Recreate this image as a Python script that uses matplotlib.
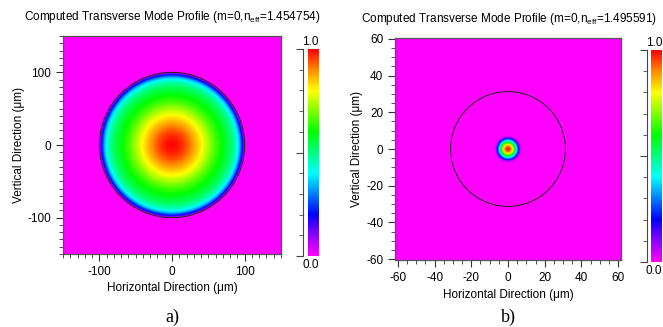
import numpy as np
import matplotlib
matplotlib.use("Agg")
import matplotlib.pyplot as plt
from matplotlib.colors import LinearSegmentedColormap
from matplotlib.ticker import MultipleLocator

plt.rcParams['font.family'] = ['Liberation Sans', 'DejaVu Sans']
plt.rcParams['mathtext.fontset'] = 'custom'
plt.rcParams['mathtext.rm'] = 'Liberation Sans'
plt.rcParams['mathtext.it'] = 'Liberation Sans'
plt.rcParams['axes.unicode_minus'] = False

# ---- data ----
titles = ["Computed Transverse Mode Profile (m=0,n$_{\\rm eff}$=1.454754)",
          "Computed Transverse Mode Profile (m=0,n$_{\\rm eff}$=1.495591)"]
panel_labels = ["a)", "b)"]
# radial intensity profile, panel a (radius in um, normalized intensity)
rad_a = [0, 10, 20, 30, 40, 50, 60, 70, 80, 88, 93, 97, 99, 100, 200]
int_a = [1.0, 0.98, 0.94, 0.88, 0.81, 0.73, 0.65, 0.59, 0.53, 0.45, 0.35, 0.2, 0.1, 0.0, 0.0]
core_a = 100.0
# radial intensity profile, panel b
rad_b = [0, 1.5, 2.5, 3.6, 4.7, 5.8, 6.7, 7.5, 100]
int_b = [1.0, 0.92, 0.8, 0.6, 0.4, 0.2, 0.05, 0.0, 0.0]
core_b = 31.3
xticks_a = [-100, 0, 100]
yticks_a = [-100, 0, 100]
xticks_b = [-60, -40, -20, 0, 20, 40, 60]
yticks_b = [-60, -40, -20, 0, 20, 40, 60]

cmap = LinearSegmentedColormap.from_list("mode", [
    (0.0, (1.0, 0.0, 1.0)), (0.1, (0.55, 0.0, 1.0)), (0.2, (0.0, 0.0, 1.0)),
    (0.4, (0.0, 1.0, 1.0)), (0.6, (0.0, 1.0, 0.0)), (0.8, (1.0, 1.0, 0.0)),
    (0.9, (1.0, 0.55, 0.0)), (1.0, (1.0, 0.0, 0.0))])

W, H = 663, 327
fig = plt.figure(figsize=(W / 100, H / 100), dpi=100)

def px(x0, y0, x1, y1):
    return [x0 / W, 1 - y1 / H, (x1 - x0) / W, (y1 - y0) / H]

FS = 8.5

def panel(box, lim_x, lim_y, rad, inten, core, xt, yt, minor, title, tpos, lab, lpos,
          cbox, cline, xlab_pad):
    ax = fig.add_axes(px(*box))
    n = 700
    xs = np.linspace(-lim_x, lim_x, n)
    ys = np.linspace(-lim_y, lim_y, n)
    X, Y = np.meshgrid(xs, ys)
    R = np.hypot(X, Y)
    Z = np.interp(R, rad, inten)
    ax.imshow(Z, extent=(-lim_x, lim_x, -lim_y, lim_y), origin='lower', cmap=cmap,
              vmin=0, vmax=1, aspect='auto', interpolation='bilinear')
    t = np.linspace(0, 2 * np.pi, 400)
    ax.plot(core * np.cos(t), core * np.sin(t), color='#202020', lw=0.7)
    ax.set_xlim(-lim_x, lim_x)
    ax.set_ylim(-lim_y, lim_y)
    ax.set_xticks(xt)
    ax.set_yticks(yt)
    ax.xaxis.set_minor_locator(MultipleLocator(minor))
    ax.yaxis.set_minor_locator(MultipleLocator(minor))
    ax.tick_params(which='major', length=5, width=0.8, labelsize=FS, color='#333333')
    ax.tick_params(which='minor', length=3, width=0.6, color='#333333')
    for s in ax.spines.values():
        s.set_color('#555555')
        s.set_linewidth(0.9)
    ax.set_xlabel("Horizontal Direction (μm)", fontsize=FS, labelpad=xlab_pad)
    ax.set_ylabel("Vertical Direction (μm)", fontsize=FS, labelpad=2)
    fig.text(tpos[0] / W, 1 - tpos[1] / H, title, fontsize=FS, ha='center', va='center')
    fig.text(lpos[0] / W, 1 - lpos[1] / H, lab, fontsize=13, ha='center', va='center',
             family='Liberation Serif')
    # colorbar
    cax = fig.add_axes(px(*cbox))
    grad = np.linspace(0, 1, 256).reshape(-1, 1)
    cax.imshow(grad, origin='lower', cmap=cmap, aspect='auto', extent=(0, 1, 0, 1))
    cax.set_axis_off()
    tax = fig.add_axes(px(cline, cbox[1], cline + 1, cbox[3]))
    tax.set_ylim(0, 1)
    for k in ['top', 'bottom', 'left']:
        tax.spines[k].set_visible(False)
    tax.spines['right'].set_color('#444444')
    tax.spines['right'].set_linewidth(0.8)
    tax.patch.set_visible(False)
    tax.set_xticks([])
    tax.yaxis.tick_right()
    tax.set_yticks([0, 0.5, 1.0])
    tax.set_yticks(np.arange(0.1, 1.0, 0.1), minor=True)
    tax.tick_params(axis='y', which='major', direction='in', length=5, width=0.8,
                    labelright=False, color='#444444')
    tax.tick_params(axis='y', which='minor', direction='in', length=3, width=0.6,
                    color='#444444')
    cx = (cline + cbox[2]) / 2
    fig.text(cx / W, 1 - (cbox[1] - 7) / H, "1.0", fontsize=FS, ha='center', va='center')
    fig.text(cx / W, 1 - (cbox[3] + 9) / H, "0.0", fontsize=FS, ha='center', va='center')
    return ax

panel((63, 36, 281, 254), 150, 150, rad_a, int_a, core_a, xticks_a, yticks_a, 10,
      titles[0], (172, 17), panel_labels[0], (172, 317), (308, 49, 319, 256), 302, 3)
panel((395, 38, 621, 260), 61.6, 60.5, rad_b, int_b, core_b, xticks_b, yticks_b, 5,
      titles[1], (509, 19), panel_labels[1], (508, 317), (651, 50, 662, 262), 646, 4)

fig.savefig("out.png", dpi=100)
